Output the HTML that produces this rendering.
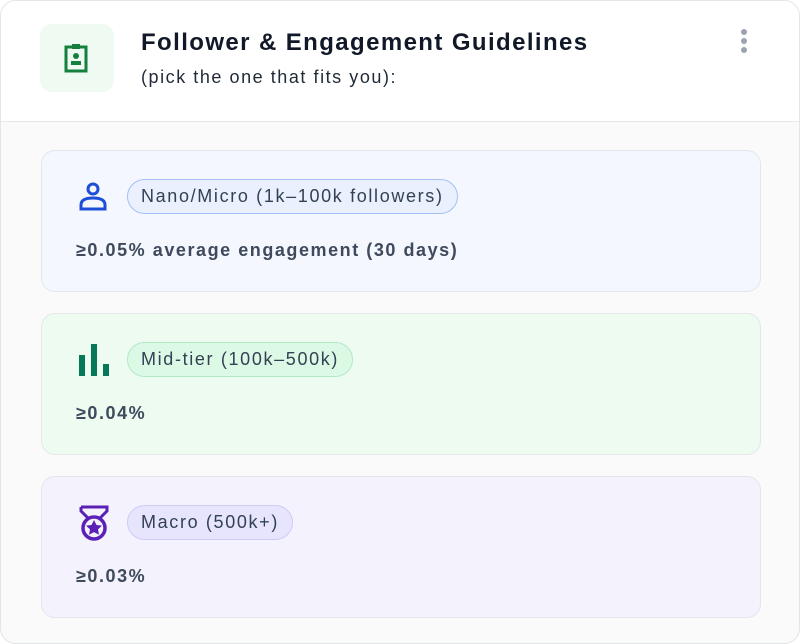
<!DOCTYPE html>
<html><head><meta charset="utf-8"><style>
*{box-sizing:border-box;margin:0;padding:0}
body{width:800px;height:644px;background:#fff;font-family:"Liberation Sans",sans-serif;overflow:hidden}
.wrap{position:absolute;left:0;top:0;width:800px;height:644px;border:1px solid #e3e5e8;border-radius:16px;overflow:hidden;background:#fafafa}
.head{position:absolute;left:0;top:0;width:798px;height:121px;background:#fff;border-bottom:1px solid #e5e7eb}
.ib{position:absolute;left:39px;top:23px;width:74px;height:68px;border-radius:12px;background:#effaf2}
.t{position:absolute;left:140px;top:28px;font-size:24px;font-weight:bold;color:#111827;letter-spacing:1.4px}
.s{position:absolute;left:140px;top:66px;font-size:18px;color:#1f2937;letter-spacing:1.55px}
.dot{position:absolute;left:740px;width:6px;height:6px;border-radius:3px;background:#9ca3af}
.card{position:absolute;left:40px;width:720px;height:142px;border-radius:14px;border:1px solid #e3e6ea}
.pill{position:absolute;left:85px;top:28px;height:35px;border-radius:18px;padding:0 13px;font-size:18px;line-height:33px;color:#334155;letter-spacing:1.65px}
.v{position:absolute;left:34px;top:89px;font-size:18px;font-weight:bold;color:#3f4a5c;letter-spacing:1.55px}
.ic{position:absolute;left:34px;top:28px}
</style></head><body><div class="wrap">
<div class="head">
<div class="ib"><svg style="position:absolute;left:24px;top:18px" width="26" height="32" viewBox="0 0 26 32"><rect x="2" y="5" width="20" height="24" fill="none" stroke="#15803d" stroke-width="3"/><rect x="8" y="2" width="8" height="5" fill="#15803d"/><circle cx="12" cy="14" r="3" fill="#15803d"/><rect x="7" y="19" width="10" height="4" fill="#15803d"/></svg></div>
<div class="t">Follower &amp; Engagement Guidelines</div>
<div class="s">(pick the one that fits you):</div>
<div class="dot" style="top:28px"></div><div class="dot" style="top:37px"></div><div class="dot" style="top:46px"></div>
</div>
<div class="card" style="top:149px;background:#f4f7fe">
<svg class="ic" style="left:37px;top:30px" width="30" height="30" viewBox="0 0 30 30"><circle cx="14" cy="8" r="5" fill="none" stroke="#1d4ed8" stroke-width="3"/><path d="M2 28V24Q2 17 14 17Q26 17 26 24V28Z" fill="none" stroke="#1d4ed8" stroke-width="3"/></svg>
<div class="pill" style="background:#eaf0fd;border:1.5px solid #a5c0f7">Nano/Micro (1k–100k followers)</div>
<div class="v">≥0.05% average engagement (30 days)</div>
</div>
<div class="card" style="top:312px;background:#edfbf1">
<svg class="ic" style="left:37px;top:29px" width="32" height="34"><rect x="0" y="12" width="6" height="21" fill="#047857"/><rect x="12" y="1" width="6" height="32" fill="#047857"/><rect x="24" y="21" width="6" height="12" fill="#047857"/></svg>
<div class="pill" style="background:#dcf9e5;border:1.5px solid #aeeac2">Mid-tier (100k–500k)</div>
<div class="v">≥0.04%</div>
</div>
<div class="card" style="top:475px;background:#f3f2fd">
<svg class="ic" style="left:37px;top:28px" width="32" height="36" viewBox="0 0 32 36"><path d="M2 2H28V6L20 14" fill="none" stroke="#5b21b6" stroke-width="3"/><path d="M2 2V6L10 14" fill="none" stroke="#5b21b6" stroke-width="3"/><circle cx="15" cy="23" r="11" fill="none" stroke="#5b21b6" stroke-width="3.5"/><path d="M15 15l2.5 5 5.5.6-4 3.8 1 5.4-5-2.7-5 2.7 1-5.4-4-3.8 5.5-.6z" fill="#5b21b6"/></svg>
<div class="pill" style="background:#e6e5fd;border:1.5px solid #cdccf7">Macro (500k+)</div>
<div class="v">≥0.03%</div>
</div>
</div></body></html>
